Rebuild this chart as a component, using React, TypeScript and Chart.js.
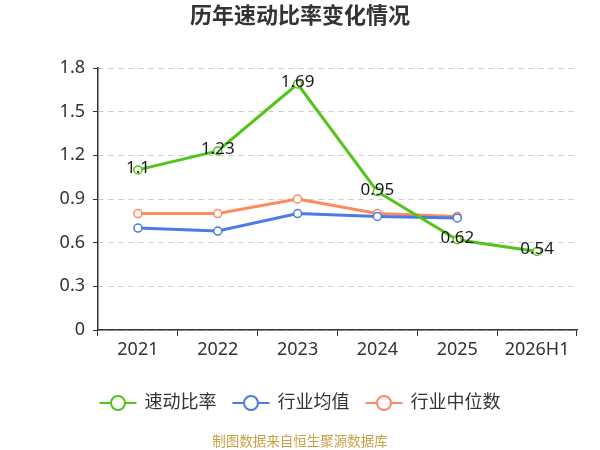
import React, { useEffect, useRef } from "react";
import { Chart, registerables, ChartConfiguration, Plugin } from "chart.js";

Chart.register(...registerables);

const years = ["2021", "2022", "2023", "2024", "2025", "2026H1"];
const quickRatio = [1.1, 1.23, 1.69, 0.95, 0.62, 0.54];
const industryAvg = [0.7, 0.68, 0.8, 0.78, 0.77, null];
const industryMedian = [0.8, 0.8, 0.9, 0.8, 0.78, null];
const seriesNames = ["速动比率", "行业均值", "行业中位数"];
const seriesColors = ["#52c41a", "#4b7be5", "#fd8a5d"];

const FONT = '"Noto Sans", "Noto Sans CJK SC", sans-serif';

const extrasPlugin: Plugin<"line"> = {
  id: "extras",
  afterDatasetsDraw(chart) {
    const ctx = chart.ctx;
    const meta = chart.getDatasetMeta(0);
    ctx.save();
    ctx.font = `17px ${FONT}`;
    ctx.fillStyle = "#1a1a1a";
    ctx.textAlign = "center";
    ctx.textBaseline = "middle";
    meta.data.forEach((pt, i) => {
      ctx.fillText(String(quickRatio[i]), pt.x, pt.y - 2);
    });
    ctx.restore();
  },
  afterDraw(chart) {
    const ctx = chart.ctx;
    ctx.save();
    // title
    ctx.font = `bold 22px ${FONT}`;
    ctx.fillStyle = "#333";
    ctx.textAlign = "center";
    ctx.textBaseline = "middle";
    ctx.fillText("历年速动比率变化情况", 300, 17);

    // legend
    ctx.font = `18px ${FONT}`;
    const symW = 37;
    const gapText = 8;
    const gapItem = 16;
    const widths = seriesNames.map((n) => ctx.measureText(n).width);
    const total =
      widths.reduce((a, b) => a + b, 0) +
      seriesNames.length * (symW + gapText) +
      (seriesNames.length - 1) * gapItem;
    let x = 300 - total / 2;
    const y = 403;
    ctx.textAlign = "left";
    seriesNames.forEach((name, i) => {
      ctx.strokeStyle = seriesColors[i];
      ctx.lineWidth = 2;
      ctx.beginPath();
      ctx.moveTo(x, y);
      ctx.lineTo(x + symW, y);
      ctx.stroke();
      ctx.beginPath();
      ctx.arc(x + symW / 2, y, 7, 0, Math.PI * 2);
      ctx.fillStyle = "#fff";
      ctx.fill();
      ctx.stroke();
      ctx.fillStyle = "#333";
      ctx.fillText(name, x + symW + gapText, y);
      x += symW + gapText + widths[i] + gapItem;
    });

    // source
    ctx.font = `13.5px ${FONT}`;
    ctx.fillStyle = "#c9a046";
    ctx.textAlign = "center";
    ctx.fillText("制图数据来自恒生聚源数据库", 300, 442);
    ctx.restore();
  },
};

const App: React.FC = () => {
  const canvasRef = useRef<HTMLCanvasElement | null>(null);

  useEffect(() => {
    const canvas = canvasRef.current;
    if (!canvas) return;

    const makeDataset = (label: string, data: (number | null)[], color: string) => ({
      label,
      data,
      borderColor: color,
      backgroundColor: color,
      borderWidth: 3,
      pointRadius: 4,
      pointHoverRadius: 4,
      pointBorderWidth: 1.5,
      pointBackgroundColor: "#fff",
      pointBorderColor: color,
      tension: 0,
      spanGaps: false,
    });

    const config: ChartConfiguration<"line"> = {
      type: "line",
      data: {
        labels: years,
        datasets: [
          makeDataset(seriesNames[0], quickRatio, seriesColors[0]),
          makeDataset(seriesNames[1], industryAvg, seriesColors[1]),
          makeDataset(seriesNames[2], industryMedian, seriesColors[2]),
        ],
      },
      options: {
        responsive: false,
        animation: false,
        layout: { padding: { top: 68, right: 23, bottom: 90, left: 0 } },
        scales: {
          x: {
            offset: true,
            afterFit: (scale) => {
              scale.height = 30;
            },
            grid: {
              offset: true,
              drawOnChartArea: false,
              drawTicks: true,
              tickLength: 6,
              tickColor: "#333",
            },
            border: { color: "#333", width: 1.5 },
            ticks: { color: "#333", font: { size: 18, family: FONT }, padding: 3 },
          },
          y: {
            min: 0,
            max: 1.8,
            afterFit: (scale) => {
              scale.width = 98;
            },
            grid: {
              color: "#cccccc",
              lineWidth: 1,
              tickLength: 5,
              tickColor: "#333",
              tickBorderDash: [],
            },
            border: { color: "#333", width: 1.5, dash: [5, 5] },
            ticks: {
              stepSize: 0.3,
              color: "#333",
              font: { size: 18, family: FONT },
              padding: 8,
              callback: (v) => String(Math.round(Number(v) * 10) / 10),
            },
          },
        },
        plugins: {
          legend: { display: false },
          title: { display: false },
          tooltip: { enabled: false },
        },
      },
      plugins: [extrasPlugin],
    };

    const chart = new Chart(canvas, config);
    return () => {
      chart.destroy();
    };
  }, []);

  return (
    <div style={{ position: "fixed", left: 0, top: 0, width: 600, height: 450, background: "#fff" }}>
      <canvas ref={canvasRef} width={600} height={450} />
    </div>
  );
};

export default App;
